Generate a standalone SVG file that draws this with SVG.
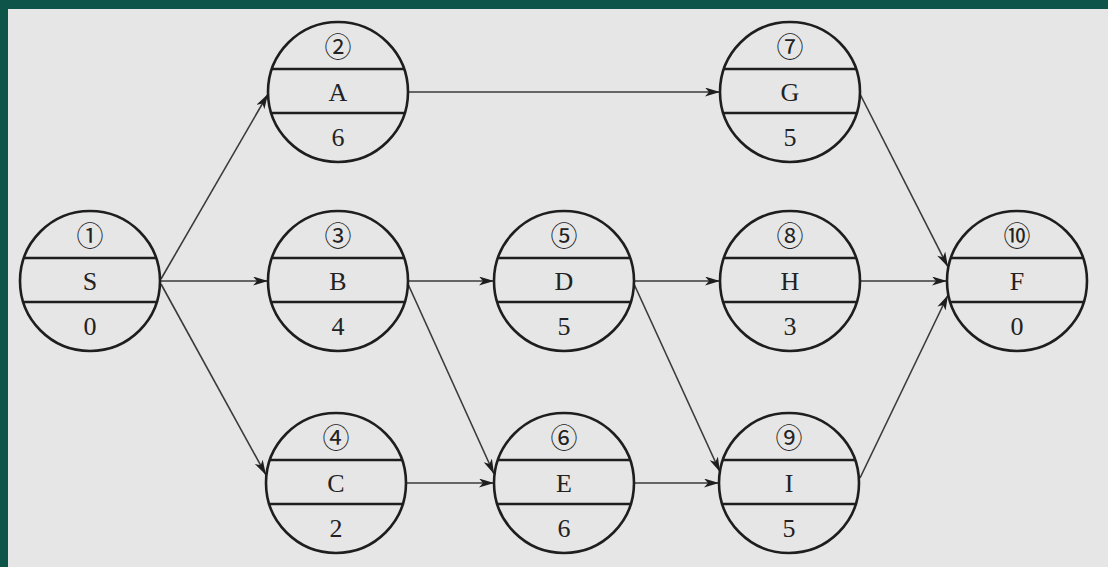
<svg xmlns="http://www.w3.org/2000/svg" width="1108" height="567" viewBox="0 0 1108 567">
  <style>
    .node text { font-family: "Liberation Serif", "Noto Sans CJK SC", serif; fill: #222; text-anchor: middle; dominant-baseline: central; }
    .node .num { font-size: 27px; }
    .node .name { font-size: 26px; }
    .node .dur { font-size: 26px; }
    #connectors line { stroke: #3a3a3a; stroke-width: 1.6; marker-end: url(#arrow); }
  </style>
  <defs>
    <marker id="arrow" markerUnits="userSpaceOnUse" markerWidth="16" markerHeight="10" refX="15" refY="4.5" orient="auto">
      <path d="M0,0 L15,4.5 L0,9 L4,4.5 z" fill="#1e1e1e"/>
    </marker>
    <!-- activity node: circle split into number / name / duration bands -->
    <g id="nodeShape" fill="none" stroke="#1e1e1e" stroke-width="2.6">
      <circle cx="0" cy="0" r="70"/>
      <line x1="-66" y1="-23" x2="66" y2="-23"/>
      <line x1="-66" y1="21" x2="66" y2="21"/>
    </g>
  </defs>

  <!-- frame -->
  <rect x="0" y="0" width="1108" height="567" fill="#0e5448"/>
  <rect x="8" y="9" width="1100" height="558" fill="#e6e6e6"/>

  <!-- connectors -->
  <g id="connectors">
    <line x1="161" y1="279" x2="268" y2="94"/>
    <line x1="161" y1="281" x2="268" y2="281"/>
    <line x1="161" y1="284" x2="266" y2="475"/>
    <line x1="408" y1="92" x2="720" y2="92"/>
    <line x1="408" y1="281" x2="494" y2="281"/>
    <line x1="408" y1="284" x2="494" y2="474"/>
    <line x1="406" y1="483" x2="494" y2="483"/>
    <line x1="634" y1="281" x2="720" y2="281"/>
    <line x1="634" y1="284" x2="720" y2="472"/>
    <line x1="634" y1="483" x2="719" y2="483"/>
    <line x1="860" y1="94" x2="948" y2="267"/>
    <line x1="860" y1="281" x2="947" y2="281"/>
    <line x1="860" y1="478" x2="948" y2="295"/>
  </g>

  <g id="node-S" class="node" transform="translate(90,281)">
    <use href="#nodeShape"/>
    <text class="num" y="-44">①</text>
    <text class="name" y="0">S</text>
    <text class="dur" y="45">0</text>
  </g>
  <g id="node-A" class="node" transform="translate(338,92)">
    <use href="#nodeShape"/>
    <text class="num" y="-44">②</text>
    <text class="name" y="0">A</text>
    <text class="dur" y="45">6</text>
  </g>
  <g id="node-B" class="node" transform="translate(338,281)">
    <use href="#nodeShape"/>
    <text class="num" y="-44">③</text>
    <text class="name" y="0">B</text>
    <text class="dur" y="45">4</text>
  </g>
  <g id="node-C" class="node" transform="translate(336,483)">
    <use href="#nodeShape"/>
    <text class="num" y="-44">④</text>
    <text class="name" y="0">C</text>
    <text class="dur" y="45">2</text>
  </g>
  <g id="node-D" class="node" transform="translate(564,281)">
    <use href="#nodeShape"/>
    <text class="num" y="-44">⑤</text>
    <text class="name" y="0">D</text>
    <text class="dur" y="45">5</text>
  </g>
  <g id="node-E" class="node" transform="translate(564,483)">
    <use href="#nodeShape"/>
    <text class="num" y="-44">⑥</text>
    <text class="name" y="0">E</text>
    <text class="dur" y="45">6</text>
  </g>
  <g id="node-G" class="node" transform="translate(790,92)">
    <use href="#nodeShape"/>
    <text class="num" y="-44">⑦</text>
    <text class="name" y="0">G</text>
    <text class="dur" y="45">5</text>
  </g>
  <g id="node-H" class="node" transform="translate(790,281)">
    <use href="#nodeShape"/>
    <text class="num" y="-44">⑧</text>
    <text class="name" y="0">H</text>
    <text class="dur" y="45">3</text>
  </g>
  <g id="node-I" class="node" transform="translate(789,483)">
    <use href="#nodeShape"/>
    <text class="num" y="-44">⑨</text>
    <text class="name" y="0">I</text>
    <text class="dur" y="45">5</text>
  </g>
  <g id="node-F" class="node" transform="translate(1017,281)">
    <use href="#nodeShape"/>
    <text class="num" y="-44">⑩</text>
    <text class="name" y="0">F</text>
    <text class="dur" y="45">0</text>
  </g>
</svg>
